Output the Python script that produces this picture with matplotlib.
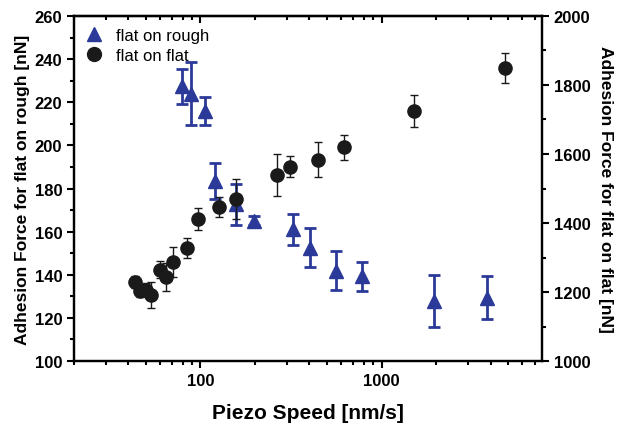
import matplotlib
matplotlib.use("Agg")
import matplotlib.pyplot as plt
from matplotlib.ticker import LogLocator, MultipleLocator, FixedLocator, NullFormatter, FixedFormatter

plt.rcParams['font.family'] = ['Liberation Sans', 'DejaVu Sans']

# flat on rough (left axis, nN)
rough_speed = [79, 89, 106, 121, 158, 198, 325, 401, 562, 778, 1950, 3830]
rough_force = [227.4, 224.0, 216.0, 183.4, 172.7, 165.1, 161.0, 152.5, 141.9, 139.3, 127.8, 129.3]
rough_err = [8.0, 14.5, 6.5, 8.3, 9.4, 2.0, 7.2, 9.0, 9.0, 6.8, 12.2, 10.0]

# flat on flat (right axis, nN)
flat_speed = [43.3, 46.1, 50.2, 53.4, 59.4, 64.6, 70.9, 84.3, 97.2, 127, 158, 265, 314, 446, 622, 1507, 4830]
flat_force = [1230, 1204, 1207, 1191, 1265, 1243, 1288, 1328, 1412, 1445, 1470, 1539, 1563, 1583, 1619, 1724, 1849]
flat_err = [17, 18, 18, 37, 24, 41, 43, 28, 31, 29, 59, 61, 30, 51, 36, 47, 44]

x_ticks = [100, 1000]
x_ticklabels = ['100', '1000']

blue = '#2b3a98'
black = '#1a1a1a'

fig = plt.figure(figsize=(6.19, 4.31), dpi=100)
ax = fig.add_axes([0.1195, 0.160, 0.7561, 0.8006])
ax2 = ax.twinx()

ax.set_xscale('log')
ax.set_xlim(20, 7700)
ax.set_ylim(100, 260)
ax2.set_ylim(1000, 2000)

h1 = ax.errorbar(rough_speed, rough_force, yerr=rough_err, fmt='^', color=blue,
                 ms=10, elinewidth=2, capsize=4, capthick=2, label='flat on rough', zorder=3)
h2 = ax2.errorbar(flat_speed, flat_force, yerr=flat_err, fmt='o', color=black,
                  ms=9.5, elinewidth=1, capsize=3, capthick=1, label='flat on flat', zorder=3)

for a in (ax, ax2):
    for s in a.spines.values():
        s.set_linewidth(1.6)

ax.yaxis.set_major_locator(MultipleLocator(20))
ax.yaxis.set_minor_locator(MultipleLocator(10))
ax2.yaxis.set_major_locator(MultipleLocator(200))
ax2.yaxis.set_minor_locator(MultipleLocator(100))
ax.xaxis.set_major_locator(FixedLocator(x_ticks))
ax.xaxis.set_major_formatter(FixedFormatter(x_ticklabels))
ax.xaxis.set_minor_locator(LogLocator(base=10, subs=range(2, 10)))
ax.xaxis.set_minor_formatter(NullFormatter())

ax.tick_params(axis='both', which='major', direction='out', length=5, width=1.5, labelsize=12)
ax.tick_params(axis='both', which='minor', direction='out', length=3, width=1.5)
ax.tick_params(axis='x', which='both', top=False)
ax2.tick_params(axis='y', which='major', direction='out', length=5, width=1.5, labelsize=12)
ax2.tick_params(axis='y', which='minor', direction='out', length=3, width=1.5)

for lbl in ax.get_xticklabels() + ax.get_yticklabels() + ax2.get_yticklabels():
    lbl.set_fontweight('bold')

# top axis with inward ticks
axt = ax.secondary_xaxis('top')
axt.set_xticks(x_ticks)
axt.xaxis.set_minor_locator(LogLocator(base=10, subs=range(2, 10)))
axt.xaxis.set_minor_formatter(NullFormatter())
axt.tick_params(axis='x', which='major', direction='in', length=5, width=1.5, labeltop=False)
axt.tick_params(axis='x', which='minor', direction='in', length=3, width=1.5)
axt.spines['top'].set_linewidth(1.6)

ax.set_xlabel('Piezo Speed [nm/s]', fontsize=15, fontweight='bold', labelpad=11)
ax.set_ylabel('Adhesion Force for flat on rough [nN]', fontsize=12.5, fontweight='bold', labelpad=3)
ax2.set_ylabel('Adhesion Force for flat on flat [nN]', fontsize=12.5, fontweight='bold',
               rotation=270, labelpad=16)

leg = ax.legend([h1[0], h2[0]], ['flat on rough', 'flat on flat'], loc='upper left',
                frameon=False, fontsize=12, handlelength=1.0, handletextpad=0.8,
                borderaxespad=0.3, labelspacing=0.3, markerscale=1.05,
                bbox_to_anchor=(0.0, 1.0))

fig.savefig('out.png', dpi=100)
